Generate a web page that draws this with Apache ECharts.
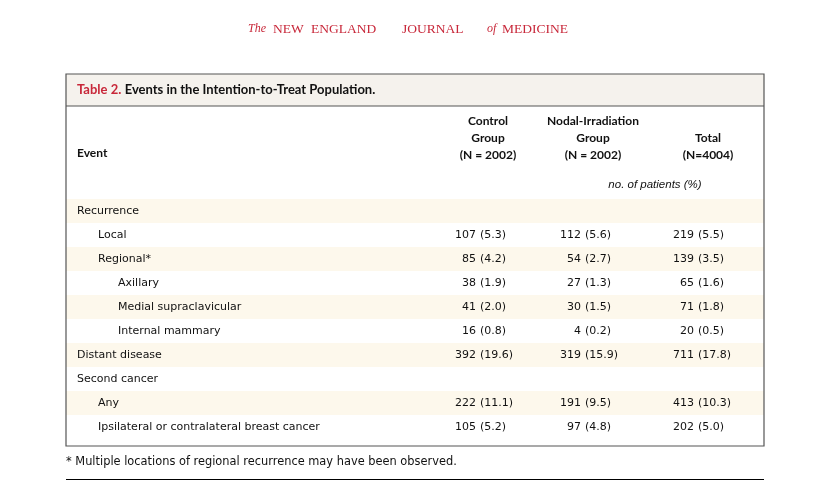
<!DOCTYPE html>
<html><head><meta charset="utf-8">
<script src="https://cdn.jsdelivr.net/npm/echarts@6/dist/echarts.min.js"></script>
<style>html,body{margin:0;padding:0;background:#fff}#c{width:827px;height:495px}</style>
</head><body><div id="c"></div>
<script>
// ---- data ----
const events = ['Recurrence','Local','Regional*','Axillary','Medial supraclavicular','Internal mammary','Distant disease','Second cancer','Any','Ipsilateral or contralateral breast cancer'];
const indentLevel = [0,1,1,2,2,2,0,0,1,1];
const controlN   = [null,107,85,38,41,16,392,null,222,105];
const controlPct = [null,'5.3','4.2','1.9','2.0','0.8','19.6',null,'11.1','5.2'];
const nodalN     = [null,112,54,27,30,4,319,null,191,97];
const nodalPct   = [null,'5.6','2.7','1.3','1.5','0.2','15.9',null,'9.5','4.8'];
const totalN     = [null,219,139,65,71,20,711,null,413,202];
const totalPct   = [null,'5.5','3.5','1.6','1.8','0.5','17.8',null,'10.3','5.0'];
const colHeaders = [['Control','Group','(N = 2002)'],['Nodal-Irradiation','Group','(N = 2002)'],['Total','(N=4004)']];
const mastheadWords = [['The',true],['NEW',false],['ENGLAND',false],['JOURNAL',false],['of',true],['MEDICINE',false]];
const titleLead = 'Table 2.';
const titleText = 'Events in the Intention-to-Treat Population.';
const eventHeader = 'Event';
const unitNote = 'no. of patients (%)';
const footnote = '* Multiple locations of regional recurrence may have been observed.';

// ---- layout / style ----
const FONT = 'DejaVu Sans';
const HFONT = 'Lato';
const TXT = '#111';
const RED = '#c8283a';
const BOX = {l:66, t:74, r:764, b:446, band:106};
const W = BOX.r - BOX.l;
const labelX = [11, 32, 52];           // offsets inside box
const parenX = [414, 519, 632];        // offsets inside box
const colCenters = [488, 593, 708];
const mastheadX = [248, 273, 311, 402, 487, 502];

const chart = echarts.init(document.getElementById('c'), null, {renderer:'canvas'});

const cols = [[controlN,controlPct],[nodalN,nodalPct],[totalN,totalPct]];

function renderItem(params, api){
  const i = api.value(1);
  const c = api.coord([0, i]);
  const rowH = api.size([0, 1])[1];
  const w = api.size([W, 0])[0];
  const y = c[1];
  const ch = [];
  if (i % 2 === 0) {
    ch.push({type:'rect', shape:{x:c[0], y:y-rowH/2, width:w, height:rowH}, style:{fill:'#fdf8ec'}});
  }
  ch.push({type:'text', x: api.coord([labelX[indentLevel[i]], i])[0], y: y,
    style:{text: events[i], font:'11px "'+FONT+'"', fill:TXT, align:'left', verticalAlign:'middle'}});
  cols.forEach((col, k) => {
    if (col[0][i] == null) return;
    const px = api.coord([parenX[k], i])[0];
    ch.push({type:'text', x: px - 4, y: y,
      style:{text: String(col[0][i]), font:'11px "'+FONT+'"', fill:TXT, align:'right', verticalAlign:'middle'}});
    ch.push({type:'text', x: px, y: y,
      style:{text: '(' + col[1][i] + ')', font:'11px "'+FONT+'"', fill:TXT, align:'left', verticalAlign:'middle'}});
  });
  return {type:'group', children: ch};
}

const graphics = [];
// masthead
mastheadWords.forEach((w, k) => {
  graphics.push({type:'text', x: mastheadX[k], y: 29,
    style:{text:w[0], font:(w[1]?'italic 12px':'13.5px')+' "Liberation Serif"', fill:RED, verticalAlign:'middle'}});
});
// title band
graphics.push({type:'rect', shape:{x:BOX.l, y:BOX.t, width:W, height:BOX.band-BOX.t}, style:{fill:'#f5f2ed'}, z:1});
graphics.push({type:'rect', shape:{x:BOX.l, y:BOX.t, width:W, height:BOX.b-BOX.t}, style:{fill:null, stroke:'#555', lineWidth:1.2}, z:10});
graphics.push({type:'line', shape:{x1:BOX.l, y1:BOX.band, x2:BOX.r, y2:BOX.band}, style:{stroke:'#555', lineWidth:1.2}, z:10});
graphics.push({type:'text', x:77, y:90, z:5,
  style:{text:'{a|'+titleLead+'} {b|'+titleText+'}', verticalAlign:'middle',
    rich:{a:{font:'bold 13px "'+HFONT+'"', fill:RED}, b:{font:'bold 13px "'+HFONT+'"', fill:TXT}}}});
// header
graphics.push({type:'text', x:77, y:153, style:{text:eventHeader, font:'bold 12px "'+HFONT+'"', fill:TXT, verticalAlign:'middle'}});
colHeaders.forEach((lines, k) => {
  const start = 155 - (lines.length-1)*17;
  lines.forEach((t, j) => {
    graphics.push({type:'text', x:colCenters[k], y:start + j*17,
      style:{text:t, font:'bold 12px "'+HFONT+'"', fill:TXT, align:'center', verticalAlign:'middle'}});
  });
});
graphics.push({type:'text', x:655, y:185, style:{text:unitNote, font:'italic 11.5px "Liberation Sans"', fill:TXT, align:'center', verticalAlign:'middle'}});
// footnote
graphics.push({type:'text', x:66, y:462, style:{text:footnote, font:'11.4px "'+FONT+'"', fill:TXT, verticalAlign:'middle'}});
graphics.push({type:'line', shape:{x1:BOX.l, y1:479.5, x2:BOX.r, y2:479.5}, style:{stroke:'#000', lineWidth:1}});

chart.setOption({
  animation:false,
  grid:{left:BOX.l, right:827-BOX.r, top:199, height:240},
  xAxis:{type:'value', min:0, max:W, show:false},
  yAxis:{type:'category', data:events, inverse:true, show:false},
  series:[{type:'custom', renderItem, data: events.map((e,i)=>[0,i]), encode:{x:0, y:1}, clip:false, silent:true}],
  graphic: graphics
});
</script></body></html>
